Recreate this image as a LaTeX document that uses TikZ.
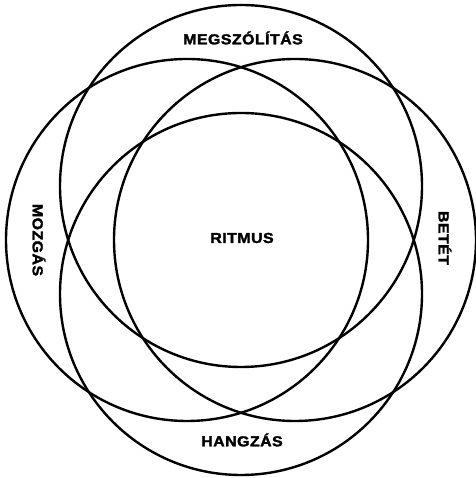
\documentclass[tikz,border=0pt]{standalone}
\usepackage{fontspec}
\setmainfont{Liberation Sans}
\newfontfamily\lblfont{Liberation Sans Bold}[FakeBold=2,FakeStretch=1.1,LetterSpace=3]
\begin{document}
\begin{tikzpicture}[x=1pt,y=1pt,
  ring/.style={circle,draw=black,line width=2.4pt,minimum size=362pt,inner sep=0pt},
  lbl/.style={font=\lblfont\fontsize{14.5}{14.5}\selectfont,inner sep=0pt}]
\useasboundingbox (0,0) rectangle (475,478);
\node[ring] (ctop) at (241,292) {};
\node[ring] (cbot) at (241,184) {};
\node[ring] (cleft) at (187,238) {};
\node[ring] (cright) at (295,238) {};
\node[lbl] (megsz) at (243,440) {MEGSZÓLÍTÁS};
\node[lbl] (ritmus) at (242,240) {RITMUS};
\node[lbl,rotate=-90] (mozgas) at (39,238) {MOZGÁS};
\node[lbl,rotate=-90] (betet) at (445,240) {BETÉT};
\node[lbl] (hangzas) at (242,38) {HANGZÁS};
\end{tikzpicture}
\end{document}
